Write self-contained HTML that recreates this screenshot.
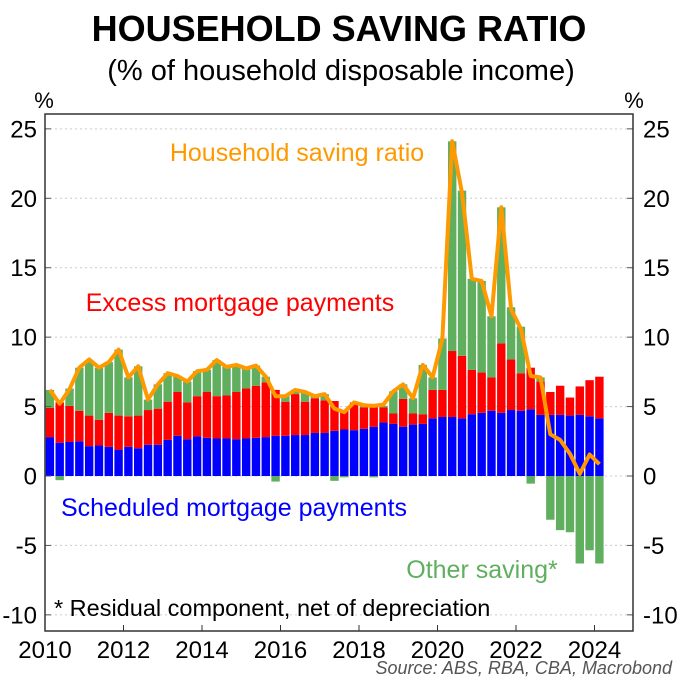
<!DOCTYPE html>
<html><head><meta charset="utf-8"><style>
body{margin:0;background:#fff;}
svg text{font-family:"Liberation Sans",Arial,sans-serif;}
</style></head><body>
<svg id="chart" width="687" height="691" xmlns="http://www.w3.org/2000/svg">
<text x="339" y="41" text-anchor="middle" font-size="36" font-weight="bold">HOUSEHOLD SAVING RATIO</text>
<text x="341" y="80" text-anchor="middle" font-size="29">(% of household disposable income)</text>
<text x="44" y="108" text-anchor="middle" font-size="22">%</text>
<text x="634" y="108" text-anchor="middle" font-size="22">%</text>
<g id="grid"></g><g id="bars"></g><g id="line"></g><g id="axes"></g>
<text x="297" y="161" text-anchor="middle" font-size="25" fill="#ff9900">Household saving ratio</text>
<text x="240" y="311" text-anchor="middle" font-size="25" fill="#ff0000">Excess mortgage payments</text>
<text x="234" y="516" text-anchor="middle" font-size="25" fill="#0000ff">Scheduled mortgage payments</text>
<text x="482" y="578" text-anchor="middle" font-size="25" fill="#5faf5f">Other saving*</text>
<text x="54" y="616" font-size="23.5">* Residual component, net of depreciation</text>
<text x="672" y="674" text-anchor="end" font-size="18" font-style="italic" fill="#555">Source: ABS, RBA, CBA, Macrobond</text>
</svg>
<script>
const scheduled=[2.8,2.4,2.45,2.5,2.15,2.2,2.1,1.9,2.1,2.0,2.25,2.25,2.6,2.9,2.65,2.85,2.75,2.7,2.7,2.65,2.7,2.75,2.8,2.9,2.9,2.95,2.95,3.1,3.1,3.25,3.35,3.3,3.4,3.55,3.85,3.75,3.55,3.7,3.75,4.15,4.25,4.25,4.15,4.45,4.55,4.7,4.55,4.75,4.7,4.8,4.4,4.4,4.4,4.35,4.4,4.3,4.15];
const excess=[2.1,2.9,2.6,2.2,2.2,1.85,2.45,2.45,2.2,2.35,2.5,2.6,2.75,3.15,2.65,2.9,3.3,3.05,3.1,3.4,3.6,3.75,3.95,3.3,2.45,2.95,2.4,2.5,2.35,2.15,1.35,2.0,1.55,1.4,1.1,0.75,2.0,0.8,0.7,2.05,1.95,4.75,4.5,3.2,2.9,2.4,5.0,3.65,2.7,3.0,2.4,1.65,2.1,1.3,2.05,2.6,3.0];
const other=[1.3,-0.3,1.25,3.1,3.85,3.75,3.65,4.75,2.8,3.55,0.75,1.75,2.05,1.15,1.5,1.8,1.6,2.6,2.05,1.95,1.45,1.45,0.4,-0.4,0.4,0.3,0.7,0.15,0.45,-0.35,-0.1,0,0.15,-0.1,0.1,1.6,1.05,1.1,3.55,0.9,3.7,15.1,11.9,6.55,6.6,4.4,9.8,3.75,3.35,-0.55,0.3,-3.15,-3.9,-4.05,-6.3,-5.35,-6.3];
const savingRatio=[6.2,5.2,6.25,7.8,8.4,7.8,8.2,9.1,7.1,7.9,5.5,6.6,7.4,7.2,6.8,7.55,7.65,8.35,7.85,8.0,7.75,7.95,7.15,5.75,5.75,6.2,6.05,5.75,5.9,4.85,4.6,5.3,5.1,5.05,5.15,6.1,6.6,5.6,8.0,7.1,9.9,24.1,20.4,14.2,14.05,11.5,19.35,12.0,10.6,7.2,7.1,3.0,2.6,1.6,0.15,1.55,0.85];
const yTicks=[-10,-5,0,5,10,15,20,25];
const xTicks=[2010,2012,2014,2016,2018,2020,2022,2024];
const NS='http://www.w3.org/2000/svg';
const L=45,R=633,T=114,B=631;
const y=v=>476-v*13.886;
const x=yr=>45+(yr-2010)*39.25;
const qx=i=>x(2010+i/4);
function mk(p,tag,at){const e=document.createElementNS(NS,tag);for(const k in at)e.setAttribute(k,at[k]);p.appendChild(e);return e;}
const grid=document.getElementById('grid'),bars=document.getElementById('bars'),line=document.getElementById('line'),axes=document.getElementById('axes');
yTicks.forEach(v=>{
 const g=mk(grid,'line',{x1:L,x2:R,y1:y(v),y2:y(v),stroke:'#ccc','stroke-dasharray':'2,3'});
 
 
 const t1=mk(axes,'text',{x:37,y:y(v)+8.5,'text-anchor':'end','font-size':24});t1.textContent=v;
 
 
 const t2=mk(axes,'text',{x:643,y:y(v)+8.5,'font-size':24});t2.textContent=v;
 
 
 mk(axes,'line',{x1:L,x2:L+6,y1:y(v),y2:y(v),stroke:'#555'});
 mk(axes,'line',{x1:R-6,x2:R,y1:y(v),y2:y(v),stroke:'#555'});
});
xTicks.forEach(v=>{
 mk(axes,'line',{x1:x(v),x2:x(v),y1:B,y2:B-6,stroke:'#333'});
 const t=mk(axes,'text',{x:x(v),y:B+27,'text-anchor':'middle','font-size':24});t.textContent=v;
 
 
});
const fr=mk(axes,'rect',{x:L,y:T,width:R-L,height:B-T,fill:'none',stroke:'#333','stroke-width':1.5});


const bw=8.4;
scheduled.forEach((s,i)=>{
 const x0=qx(i)+0.7,e=excess[i],o=other[i];
 const b1=mk(bars,'rect',{x:x0,y:y(s),width:bw,height:y(0)-y(s),fill:'#0000ff'});
 
 
 const b2=mk(bars,'rect',{x:x0,y:y(s+e),width:bw,height:y(s)-y(s+e),fill:'#ff0000'});
 
 
 let oy,oh;
 if(o>=0){oy=y(s+e+o);oh=y(s+e)-oy;}else{oy=y(0);oh=y(o)-y(0);}
 const b3=mk(bars,'rect',{x:x0,y:oy,width:bw,height:oh,fill:'#5faf5f'});
 
 
});
const pts=savingRatio.map((v,i)=>(qx(i)+4.9).toFixed(1)+','+y(v).toFixed(1)).join(' ');
const pl=mk(line,'polyline',{points:pts,fill:'none',stroke:'#ff9900','stroke-width':4,'stroke-linejoin':'round'});


</script>
</body></html>
